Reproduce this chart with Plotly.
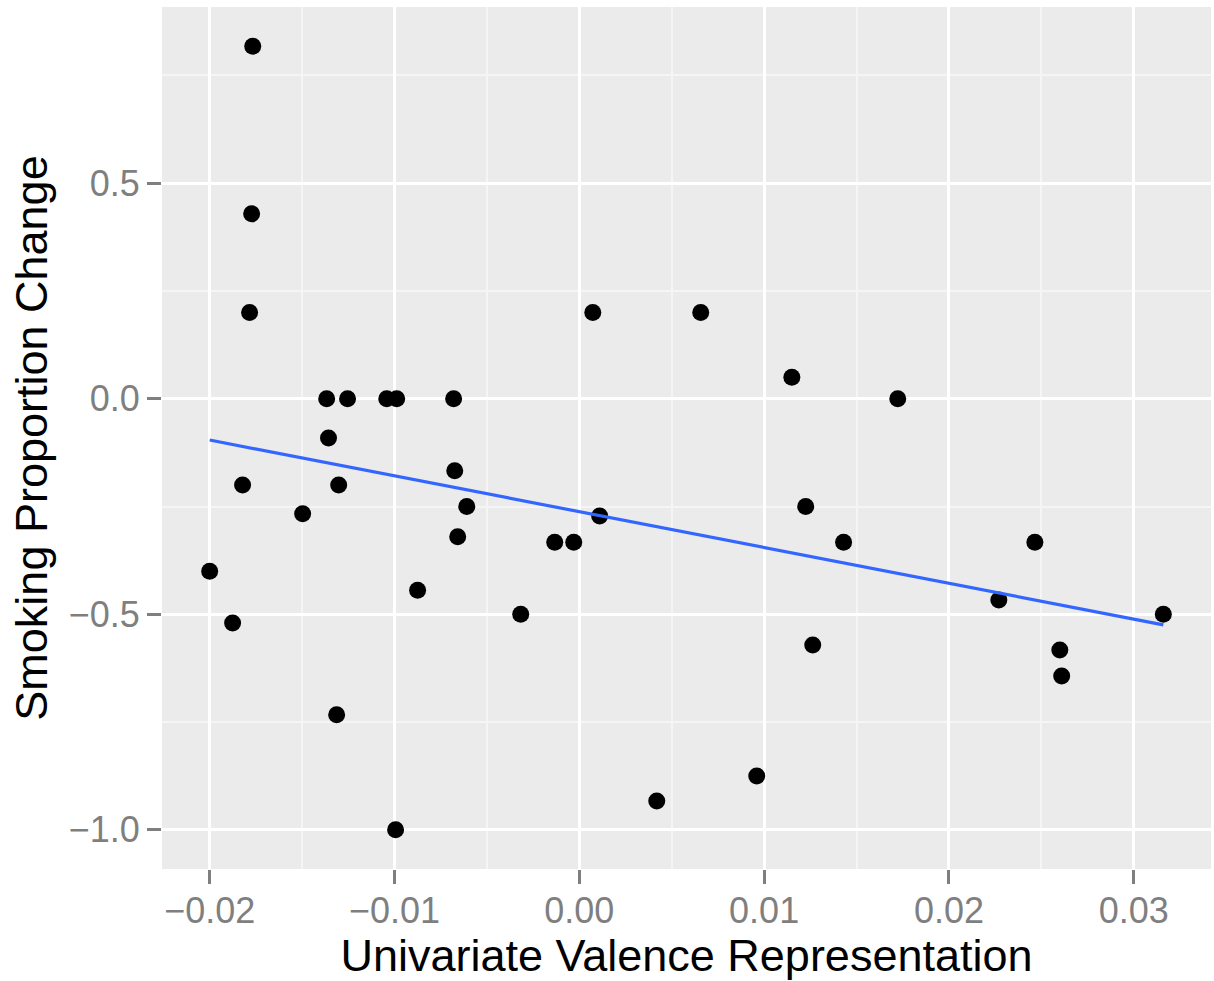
import numpy as np
import plotly.graph_objects as go

# Data
valence = [-0.01767, -0.01773, -0.01784, -0.02000, -0.01876, -0.01822, -0.01497,
           -0.01367, -0.01357, -0.01254, -0.01302, -0.01313, -0.01042, -0.00988,
           -0.00994, -0.00875, -0.00680, -0.00674, -0.00658, -0.00609, -0.00317,
           -0.00133, -0.00030, 0.00073, 0.00110, 0.00419, 0.00657, 0.00960,
           0.01150, 0.01225, 0.01263, 0.01430, 0.01723, 0.02270, 0.02465,
           0.02600, 0.02610, 0.03160]
smoking = [0.818, 0.429, 0.200, -0.400, -0.520, -0.200, -0.267,
           0.000, -0.091, 0.000, -0.200, -0.733, 0.000, 0.000,
           -1.000, -0.444, 0.000, -0.167, -0.320, -0.250, -0.500,
           -0.333, -0.333, 0.200, -0.272, -0.933, 0.200, -0.875,
           0.050, -0.250, -0.571, -0.333, 0.000, -0.467, -0.333,
           -0.583, -0.643, -0.500]

x_ticks = [-0.02, -0.01, 0.00, 0.01, 0.02, 0.03]
x_labels = ["\u22120.02", "\u22120.01", "0.00", "0.01", "0.02", "0.03"]
y_ticks = [-1.0, -0.5, 0.0, 0.5]
y_labels = ["\u22121.0", "\u22120.5", "0.0", "0.5"]

xa = np.array(valence)
ya = np.array(smoking)
slope, intercept = np.polyfit(xa, ya, 1)
fit_x = [xa.min(), xa.max()]
fit_y = [intercept + slope * v for v in fit_x]

xr = xa.max() - xa.min()
yr = ya.max() - ya.min()
x_range = [xa.min() - 0.05 * xr, xa.max() + 0.05 * xr]
y_range = [ya.min() - 0.05 * yr, ya.max() + 0.05 * yr]

fig = go.Figure()
fig.add_trace(go.Scatter(x=valence, y=smoking, mode="markers",
                         marker=dict(color="black", size=17, line=dict(width=0)),
                         showlegend=False, hoverinfo="skip"))
fig.add_trace(go.Scatter(x=fit_x, y=fit_y, mode="lines",
                         line=dict(color="#3366FF", width=3.2),
                         showlegend=False, hoverinfo="skip"))

tick_font = dict(family="Liberation Sans, Arial, sans-serif", size=36, color="#7F7F7F")
title_font = dict(family="Liberation Sans, Arial, sans-serif", size=45, color="black")

fig.update_layout(
    width=1214, height=981,
    margin=dict(l=162, r=3, t=7, b=112),
    paper_bgcolor="white",
    plot_bgcolor="#EBEBEB",
    xaxis=dict(
        range=x_range, tickvals=x_ticks, ticktext=x_labels,
        showgrid=True, gridcolor="white", gridwidth=3, zeroline=False,
        minor=dict(dtick=0.01, tick0=-0.015, showgrid=True, gridcolor="#F5F5F5", gridwidth=1.5),
        ticks="outside", ticklen=14, tickwidth=2.5, tickcolor="#7F7F7F",
        tickfont=tick_font, showline=False, ticklabelstandoff=-4,
        title=dict(text="Univariate Valence Representation", font=title_font, standoff=8),
    ),
    yaxis=dict(
        range=y_range, tickvals=y_ticks, ticktext=y_labels,
        showgrid=True, gridcolor="white", gridwidth=3, zeroline=False,
        minor=dict(dtick=0.5, tick0=-0.75, showgrid=True, gridcolor="#F5F5F5", gridwidth=1.5),
        ticks="outside", ticklen=14, tickwidth=2.5, tickcolor="#7F7F7F",
        tickfont=tick_font, showline=False,
        title=dict(text="Smoking Proportion Change", font=title_font, standoff=6),
    ),
)

fig.write_html("out.html", config={"displayModeBar": False},
               post_script="document.body.style.margin='0';")
